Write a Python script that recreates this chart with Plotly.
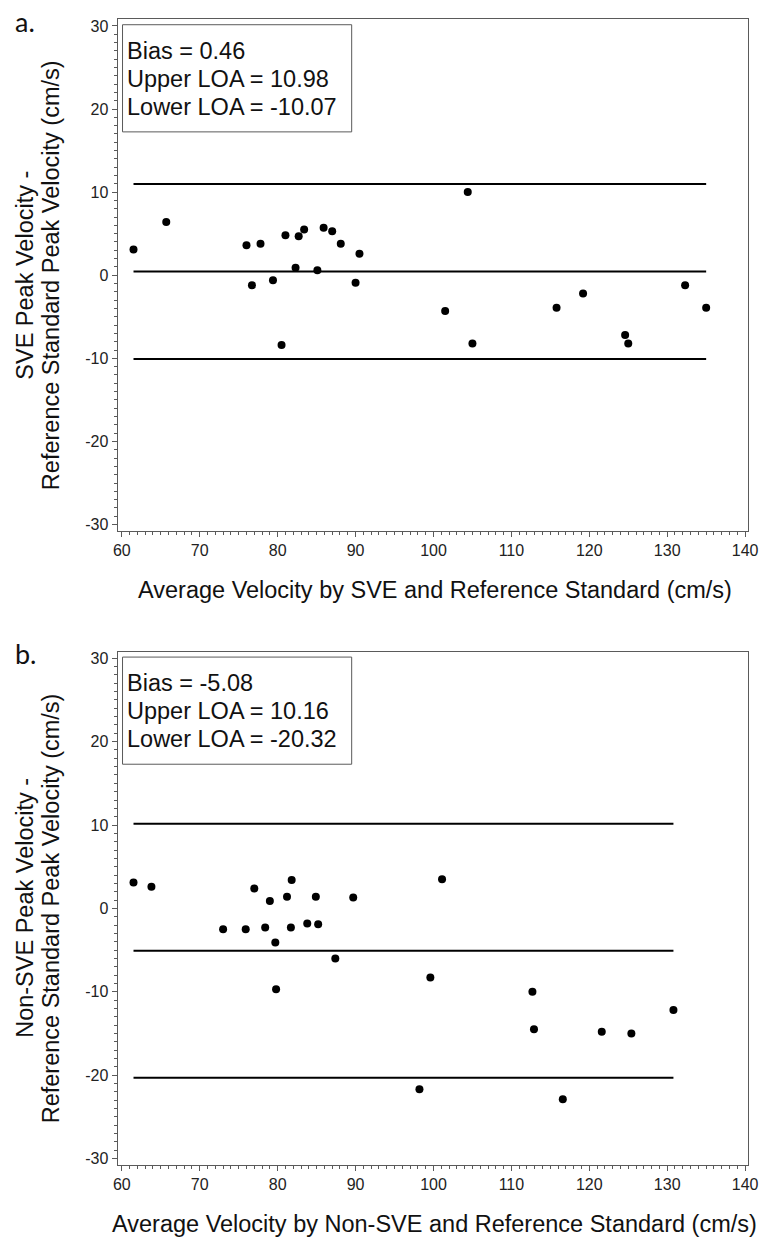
import plotly.graph_objects as go

W, H = 773, 1239

# ---------------- data ----------------
sve_avg = [61.5, 65.7, 76.0, 77.8, 76.7, 79.4, 81.0, 82.7, 83.4, 82.3, 85.1, 85.9,
           87.0, 88.1, 90.5, 90.0, 104.4, 119.2, 132.3, 80.5, 101.5, 105.0, 115.8,
           124.6, 125.0, 135.0]
sve_diff = [3.1, 6.4, 3.6, 3.8, -1.2, -0.6, 4.8, 4.7, 5.5, 0.9, 0.6, 5.7,
            5.3, 3.8, 2.6, -0.9, 10.0, -2.2, -1.2, -8.4, -4.3, -8.2, -3.9,
            -7.2, -8.2, -3.9]
sve_stats = {"bias": 0.46, "upper": 10.98, "lower": -10.07}

non_avg = [61.5, 63.8, 77.0, 81.8, 79.0, 81.2, 84.9, 89.7, 101.1, 73.0, 75.9, 78.4,
           81.7, 83.8, 85.2, 79.7, 87.4, 79.8, 99.6, 112.7, 112.9, 130.8, 121.6,
           125.4, 98.2, 116.6]
non_diff = [3.1, 2.6, 2.4, 3.4, 0.9, 1.4, 1.4, 1.3, 3.5, -2.5, -2.5, -2.3,
            -2.3, -1.8, -1.9, -4.1, -6.0, -9.7, -8.3, -10.0, -14.5, -12.2, -14.8,
            -15.0, -21.7, -22.9]
non_stats = {"bias": -5.08, "upper": 10.16, "lower": -20.32}

x_ticks = [60, 70, 80, 90, 100, 110, 120, 130, 140]
y_ticks = [30, 20, 10, 0, -10, -20, -30]
y_tick_text = ["30", "20", "10", "0", "-10", "-20", "-30"]

x_title_a = "Average Velocity by SVE and Reference Standard (cm/s)"
x_title_b = "Average Velocity by Non-SVE and Reference Standard (cm/s)"
y_title_a = ["SVE Peak Velocity -", "Reference Standard Peak Velocity (cm/s)"]
y_title_b = ["Non-SVE Peak Velocity -", "Reference Standard Peak Velocity (cm/s)"]

# ---------------- layout helpers ----------------
def px(x):
    return x / W

def py(y):
    return 1 - y / H

FONT = "Liberation Sans, Arial, sans-serif"
FRAME = "#5a5a5a"

panels = [
    dict(top=17.3, bottom=530.7, avg=sve_avg, diff=sve_diff, st=sve_stats,
         xt=x_title_a, yt=y_title_a, label="a."),
    dict(top=651.7, bottom=1166.7, avg=non_avg, diff=non_diff, st=non_stats,
         xt=x_title_b, yt=y_title_b, label="b."),
]

fig = go.Figure()
annotations = []
shapes = []
layout = {}

for i, p in enumerate(panels):
    sfx = "" if i == 0 else str(i + 1)
    xa, ya = "x" + sfx, "y" + sfx
    fig.add_trace(go.Scatter(x=p["avg"], y=p["diff"], mode="markers", xaxis=xa, yaxis=ya,
                             marker=dict(color="black", size=8), showlegend=False,
                             hoverinfo="skip"))
    xmin, xmax = min(p["avg"]), max(p["avg"])
    for key in ("upper", "bias", "lower"):
        fig.add_trace(go.Scatter(x=[xmin, xmax], y=[p["st"][key]] * 2, mode="lines",
                                 xaxis=xa, yaxis=ya, line=dict(color="black", width=2),
                                 showlegend=False, hoverinfo="skip"))
    common = dict(showline=True, linecolor=FRAME, linewidth=1, mirror=True,
                  ticks="outside", ticklen=5, tickcolor=FRAME, tickwidth=1,
                  showgrid=False, zeroline=False,
                  tickfont=dict(family=FONT, size=16, color="#222"),
                  minor=dict(ticks="outside", ticklen=3, tickcolor=FRAME, dtick=1,
                             showgrid=False))
    layout["xaxis" + sfx] = dict(common, domain=[px(115), px(758.7)], range=[59.46, 140.37],
                                 tickvals=x_ticks, anchor=ya)
    layout["yaxis" + sfx] = dict(common, domain=[py(p["bottom"]), py(p["top"])],
                                 range=[-30.77, 30.8], tickvals=y_ticks,
                                 ticktext=y_tick_text, anchor=xa)
    annotations.append(dict(text=p["xt"], xref="paper", yref="paper",
                            x=px(439), y=py(p["bottom"] + 59), xanchor="center",
                            yanchor="middle", showarrow=False,
                            font=dict(family=FONT, size=23.5, color="#111")))
    mid = (p["top"] + p["bottom"]) / 2
    for xx, line in zip([21, 47], p["yt"]):
        annotations.append(dict(text=line, xref="paper", yref="paper", x=px(xx), y=py(mid),
                                xanchor="center", yanchor="middle", textangle=-90,
                                showarrow=False,
                                font=dict(family=FONT, size=23.5, color="#111")))
    bt = p["top"] + 5.5
    shapes.append(dict(type="rect", xref="paper", yref="paper",
                       x0=px(120), x1=px(354), y0=py(bt), y1=py(bt + 107.5),
                       line=dict(color=FRAME, width=1), fillcolor="white", layer="above"))
    texts = [f"Bias = {p['st']['bias']:.2f}", f"Upper LOA = {p['st']['upper']:.2f}",
             f"Lower LOA = {p['st']['lower']:.2f}"]
    for off, t in zip([25.5, 53.5, 81.5], texts):
        annotations.append(dict(text=t, xref="paper", yref="paper", x=px(123),
                                y=py(bt + off + 1), xanchor="left", yanchor="middle",
                                showarrow=False,
                                font=dict(family=FONT, size=23.5, color="#111")))
    annotations.append(dict(text=p["label"], xref="paper", yref="paper", x=px(8),
                            y=py(p["top"] + 2), xanchor="left", yanchor="middle",
                            showarrow=False,
                            font=dict(family="Lato, Open Sans, sans-serif", size=27,
                                      color="#111")))

fig.update_layout(width=W, height=H, margin=dict(l=0, r=0, t=0, b=0),
                  paper_bgcolor="white", plot_bgcolor="white",
                  annotations=annotations, shapes=shapes, **layout)

fig.write_html("out.html", config={"displayModeBar": False},
               post_script="document.body.style.margin='0';document.body.style.overflow='hidden';")
